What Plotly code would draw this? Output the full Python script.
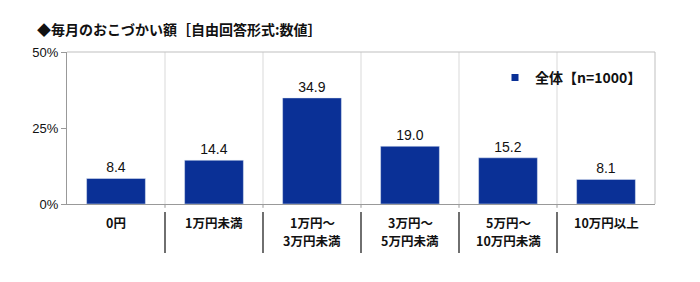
import plotly.graph_objects as go

categories = ["0円", "1万円未満", "1万円～\n3万円未満", "3万円～\n5万円未満", "5万円～\n10万円未満", "10万円以上"]
values = [8.4, 14.4, 34.9, 19.0, 15.2, 8.1]
series_name = "全体【n=1000】"
y_ticks = [0, 25, 50]
y_tick_labels = ["0%", "25%", "50%"]

bar_color = "#0A3096"
jp_font = "Noto Sans CJK JP"

x = list(range(len(categories)))
fig = go.Figure()
fig.add_trace(go.Bar(
    x=x, y=values, name=series_name, marker_color=bar_color, width=0.6,
    text=[f"{v:.1f}" for v in values], textposition="outside",
    textfont=dict(family="Liberation Sans, Arial", size=14, color="#111"),
    cliponaxis=False, showlegend=False,
))
# legend entry with a small square marker
fig.add_trace(go.Scatter(
    x=[None], y=[None], mode="markers", name=series_name,
    marker=dict(symbol="square", size=7, color=bar_color), showlegend=True,
))

n = len(categories)
shapes = []
for i in range(n - 1):
    b = i + 0.5
    shapes.append(dict(type="line", xref="x", yref="paper", x0=b, x1=b, y0=0, y1=1,
                       line=dict(color="#D9D9D9", width=1)))
    shapes.append(dict(type="line", xref="x", yref="paper", x0=b, x1=b, y0=-0.053, y1=-0.322,
                       line=dict(color="#222", width=1.3)))
    shapes.append(dict(type="line", xref="x", yref="paper", x0=b, x1=b, y0=0, y1=-0.025,
                       line=dict(color="#999", width=1)))
shapes.append(dict(type="line", xref="paper", yref="paper", x0=0, x1=1, y0=1, y1=1,
                   line=dict(color="#BFBFBF", width=1)))
shapes.append(dict(type="line", xref="paper", yref="paper", x0=1, x1=1, y0=0, y1=1,
                   line=dict(color="#BFBFBF", width=1)))

# category labels, one annotation per text line
plot_h = 282 - 52 - 78
annotations = []
for xi, cat in zip(x, categories):
    for j, line in enumerate(cat.split("\n")):
        yc = 222 + 18 * j
        annotations.append(dict(
            x=xi, xref="x", y=(204 - yc) / plot_h, yref="paper",
            text=f"<b>{line}</b>", showarrow=False, xanchor="center", yanchor="middle",
            borderpad=0, font=dict(family=jp_font, size=12.5, color="#111"),
        ))

fig.update_layout(
    width=700, height=282,
    margin=dict(l=67, r=45, t=52, b=78),
    paper_bgcolor="white", plot_bgcolor="white",
    title=dict(text="◆毎月のおこづかい額［自由回答形式:数値］",
               x=37/700, xanchor="left", y=1-30/282, yanchor="middle",
               font=dict(family=jp_font, size=14, color="#111", weight="bold")),
    xaxis=dict(range=[-0.5, n - 0.5], tickvals=x, showticklabels=False,
               showgrid=False, showline=True, linecolor="#999", linewidth=1,
               ticks="", zeroline=False, fixedrange=True),
    yaxis=dict(range=[0, 50], tickvals=y_ticks, ticktext=y_tick_labels,
               tickfont=dict(family="Liberation Sans, Arial", size=13, color="#111"),
               showgrid=False, showline=True, linecolor="#999", linewidth=1,
               ticks="outside", ticklen=5, tickcolor="#999", zeroline=False),
    legend=dict(x=(495 - 67) / 588, y=0.83, xanchor="left", yanchor="middle",
                font=dict(family=jp_font, size=14, color="#111", weight="bold"),
                bgcolor="rgba(0,0,0,0)", itemwidth=30),
    shapes=shapes,
    annotations=annotations,
    bargap=0.4,
)

fig.write_html("out.html")
